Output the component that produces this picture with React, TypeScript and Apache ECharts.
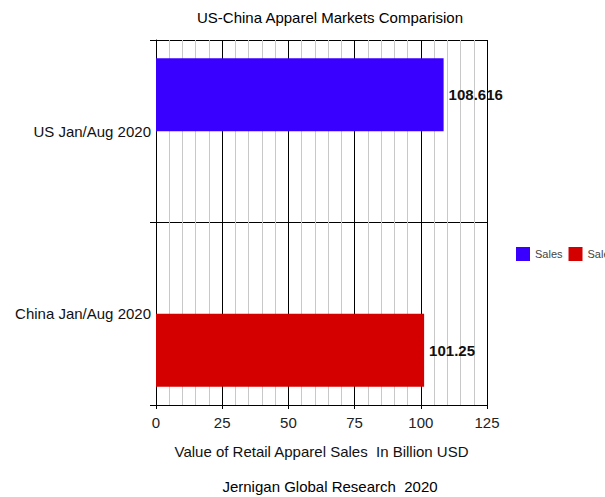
import React, { useEffect, useRef } from "react";
import * as echarts from "echarts";

const categories = ["China Jan/Aug 2020", "US Jan/Aug 2020"];
const usSales = [null, 108.616];
const chinaSales = [101.25, null];
const xTicks = [0, 25, 50, 75, 100, 125];

const FONT = "'Liberation Sans', Arial, sans-serif";

export default function App() {
  const ref = useRef<HTMLDivElement>(null);
  useEffect(() => {
    if (!ref.current) return;
    const chart = echarts.init(ref.current, null, { renderer: "svg" });
    chart.setOption({
      animation: false,
      textStyle: { fontFamily: FONT },
      title: [
        {
          text: "US-China Apparel Markets Comparision",
          left: 325,
          textAlign: "center",
          top: 5,
          textStyle: { fontSize: 15, fontWeight: "normal", color: "#000", fontFamily: FONT },
        },
        {
          text: "Jernigan Global Research  2020",
          left: 325,
          textAlign: "center",
          top: 474,
          textStyle: { fontSize: 15, fontWeight: "normal", color: "#000", fontFamily: FONT },
        },
      ],
      legend: {
        orient: "horizontal",
        left: 516,
        top: 247,
        width: 300,
        padding: 0,
        itemWidth: 14,
        itemHeight: 14,
        itemGap: 6,
        icon: "rect",
        textStyle: { fontSize: 11, color: "#444", fontFamily: FONT },
        data: ["Sales", "Sales "],
      },
      grid: { left: 156, right: 118, top: 40, bottom: 92 },
      xAxis: {
        type: "value",
        min: xTicks[0],
        max: xTicks[xTicks.length - 1],
        interval: 25,
        name: "Value of Retail Apparel Sales  In Billion USD",
        nameLocation: "middle",
        nameGap: 39,
        nameTextStyle: { fontSize: 15, color: "#111", fontFamily: FONT },
        axisLine: { show: true, lineStyle: { color: "#000", width: 1 } },
        axisTick: { show: true, length: 4, lineStyle: { color: "#000" } },
        axisLabel: { fontSize: 15, color: "#222", margin: 10, fontFamily: FONT },
        splitLine: { show: true, lineStyle: { color: "#000", width: 1 } },
        minorTick: { show: false, splitNumber: 5 },
        minorSplitLine: { show: true, lineStyle: { color: "#c8c8c8", width: 1 } },
      },
      yAxis: {
        type: "category",
        data: categories,
        axisLine: { show: true, lineStyle: { color: "#000", width: 1 } },
        axisTick: { show: true, length: 6, lineStyle: { color: "#000" } },
        axisLabel: { fontSize: 15, color: "#111", margin: 5, fontFamily: FONT },
        splitLine: { show: true, lineStyle: { color: "#000", width: 1 } },
      },
      series: [
        {
          name: "Sales",
          type: "bar",
          data: usSales,
          barGap: "0%",
          barCategoryGap: "20%",
          itemStyle: { color: "#3a00ff" },
          label: {
            show: true,
            position: "right",
            distance: 5,
            fontSize: 15,
            fontWeight: "bold",
            color: "#111",
            fontFamily: FONT,
          },
        },
        {
          name: "Sales ",
          type: "bar",
          data: chinaSales,
          barGap: "0%",
          barCategoryGap: "20%",
          itemStyle: { color: "#d40000" },
          label: {
            show: true,
            position: "right",
            distance: 5,
            fontSize: 15,
            fontWeight: "bold",
            color: "#111",
            fontFamily: FONT,
          },
        },
      ],
    });
    return () => chart.dispose();
  }, []);
  return (
    <div
      ref={ref}
      style={{ position: "fixed", left: 0, top: 0, width: 605, height: 497, background: "#fff" }}
    />
  );
}
